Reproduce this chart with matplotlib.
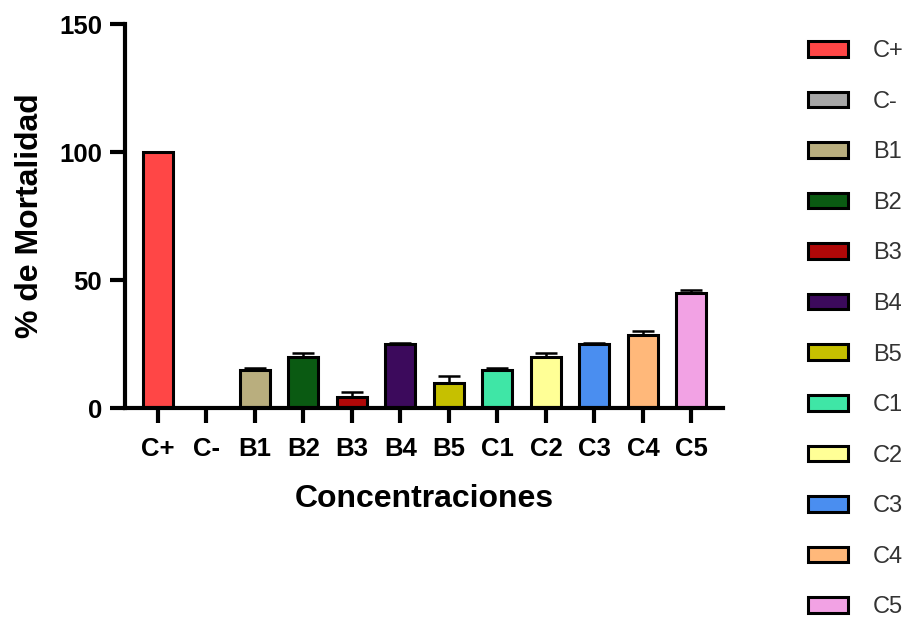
import numpy as np
import matplotlib
matplotlib.use("Agg")
import matplotlib.pyplot as plt
from matplotlib.patches import Patch

plt.rcParams["font.family"] = ["Liberation Sans", "DejaVu Sans"]

# mortality per treatment (mean and upper SEM)
groups = ["C+", "C-", "B1", "B2", "B3", "B4", "B5", "C1", "C2", "C3", "C4", "C5"]
mortality = [100, 0, 15, 20, 4.5, 25, 10, 15, 20, 25, 28.5, 45]
sem = [0, 0, 0.5, 1.5, 2.0, 0.5, 2.5, 0.5, 1.5, 0.5, 1.5, 1.0]
colors = ["#FF4646", "#A6A6A6", "#B9AE7E", "#0A5A12", "#B00808", "#3C0A5C",
          "#C6C000", "#3FE6A6", "#FFFF96", "#4A8EF0", "#FFB87A", "#F2A2E4"]

fig = plt.figure(figsize=(9.15, 6.27), dpi=100)
ax = fig.add_axes([0.1366, 0.349, 0.6535, 0.6127])

x = np.arange(len(groups))
ax.bar(x, mortality, width=0.62, color=colors, edgecolor="black", linewidth=2.2, zorder=2)
ax.errorbar(x, mortality, yerr=[np.zeros(len(sem)), sem], fmt="none",
            ecolor="black", elinewidth=1.8, capsize=8, capthick=1.8, zorder=1)

ax.set_xlim(-0.68, 11.65)
ax.set_ylim(0, 150)
ax.set_yticks([0, 50, 100, 150])
ax.set_xticks(x)
ax.set_xticklabels(groups)

for side in ("top", "right"):
    ax.spines[side].set_visible(False)
for side in ("left", "bottom"):
    ax.spines[side].set_linewidth(3)
ax.tick_params(axis="both", width=3, length=10.5, direction="out", labelsize=18.5)
ax.tick_params(axis="x", pad=10)
ax.tick_params(axis="y", pad=6)
for lab in ax.get_xticklabels() + ax.get_yticklabels():
    lab.set_fontweight("bold")

ax.set_xlabel("Concentraciones", fontsize=23, fontweight="bold", labelpad=17)
ax.set_ylabel("% de Mortalidad", fontsize=23, fontweight="bold", labelpad=10)

handles = [Patch(facecolor=c, edgecolor="black", linewidth=2.2) for c in colors]
fig.legend(handles, groups, loc="upper left", bbox_to_anchor=(0.883, 0.936),
           frameon=False, fontsize=17, handlelength=1.7, handleheight=0.64,
           labelspacing=1.21, handletextpad=1.05, labelcolor="#333333",
           borderaxespad=0, borderpad=0)

fig.savefig("out.png", dpi=100)
